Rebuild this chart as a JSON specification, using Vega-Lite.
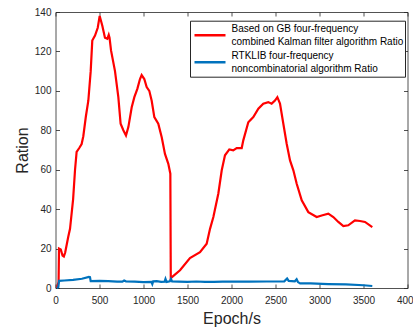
{
  "$schema": "https://vega.github.io/schema/vega-lite/v6.json",
  "width": 352,
  "height": 276,
  "autosize": "none",
  "padding": {"left": 55.5, "top": 12, "right": 5.5, "bottom": 39},
  "config": {
    "view": {"stroke": null},
    "font": "Liberation Sans",
    "axis": {
      "grid": false,
      "domainColor": "#262626",
      "domainWidth": 0.8,
      "tickColor": "#262626",
      "tickWidth": 0.8,
      "tickSize": -4,
      "labelColor": "#262626",
      "labelFontSize": 10,
      "titleColor": "#262626",
      "titleFontSize": 16,
      "titleFontWeight": "normal"
    },
    "legend": {
      "padding": 1,
      "strokeColor": "#262626",
      "fillColor": "white",
      "symbolType": "stroke",
      "symbolSize": 961,
      "symbolStrokeWidth": 2.5,
      "symbolOffset": 2,
      "clipHeight": 27,
      "labelFontSize": 10,
      "labelColor": "black",
      "labelLimit": 400,
      "labelOffset": 4.5,
      "rowPadding": 0
    }
  },
  "data": {
    "values": [
      {"series": "GB combined Kalman filter", "epoch": 15, "ratio": 0},
      {"series": "GB combined Kalman filter", "epoch": 35, "ratio": 3},
      {"series": "GB combined Kalman filter", "epoch": 40, "ratio": 20},
      {"series": "GB combined Kalman filter", "epoch": 60, "ratio": 19.5},
      {"series": "GB combined Kalman filter", "epoch": 80, "ratio": 16.5},
      {"series": "GB combined Kalman filter", "epoch": 95, "ratio": 16},
      {"series": "GB combined Kalman filter", "epoch": 110, "ratio": 18},
      {"series": "GB combined Kalman filter", "epoch": 145, "ratio": 26},
      {"series": "GB combined Kalman filter", "epoch": 165, "ratio": 30},
      {"series": "GB combined Kalman filter", "epoch": 200, "ratio": 45},
      {"series": "GB combined Kalman filter", "epoch": 222, "ratio": 60},
      {"series": "GB combined Kalman filter", "epoch": 240, "ratio": 69},
      {"series": "GB combined Kalman filter", "epoch": 270, "ratio": 71},
      {"series": "GB combined Kalman filter", "epoch": 297, "ratio": 73},
      {"series": "GB combined Kalman filter", "epoch": 316, "ratio": 77},
      {"series": "GB combined Kalman filter", "epoch": 345, "ratio": 87},
      {"series": "GB combined Kalman filter", "epoch": 373, "ratio": 95},
      {"series": "GB combined Kalman filter", "epoch": 400, "ratio": 110},
      {"series": "GB combined Kalman filter", "epoch": 418, "ratio": 125.5},
      {"series": "GB combined Kalman filter", "epoch": 449, "ratio": 128},
      {"series": "GB combined Kalman filter", "epoch": 480, "ratio": 132},
      {"series": "GB combined Kalman filter", "epoch": 502, "ratio": 138},
      {"series": "GB combined Kalman filter", "epoch": 532, "ratio": 133},
      {"series": "GB combined Kalman filter", "epoch": 562, "ratio": 127},
      {"series": "GB combined Kalman filter", "epoch": 589, "ratio": 126.4},
      {"series": "GB combined Kalman filter", "epoch": 605, "ratio": 128.4},
      {"series": "GB combined Kalman filter", "epoch": 614, "ratio": 127},
      {"series": "GB combined Kalman filter", "epoch": 631, "ratio": 120.5},
      {"series": "GB combined Kalman filter", "epoch": 676, "ratio": 110},
      {"series": "GB combined Kalman filter", "epoch": 714, "ratio": 96.8},
      {"series": "GB combined Kalman filter", "epoch": 740, "ratio": 83.3},
      {"series": "GB combined Kalman filter", "epoch": 771, "ratio": 80},
      {"series": "GB combined Kalman filter", "epoch": 801, "ratio": 77.4},
      {"series": "GB combined Kalman filter", "epoch": 828, "ratio": 81.6},
      {"series": "GB combined Kalman filter", "epoch": 866, "ratio": 91.7},
      {"series": "GB combined Kalman filter", "epoch": 896, "ratio": 96.8},
      {"series": "GB combined Kalman filter", "epoch": 930, "ratio": 101},
      {"series": "GB combined Kalman filter", "epoch": 960, "ratio": 106},
      {"series": "GB combined Kalman filter", "epoch": 979, "ratio": 108},
      {"series": "GB combined Kalman filter", "epoch": 1009, "ratio": 106},
      {"series": "GB combined Kalman filter", "epoch": 1036, "ratio": 101.9},
      {"series": "GB combined Kalman filter", "epoch": 1066, "ratio": 100},
      {"series": "GB combined Kalman filter", "epoch": 1093, "ratio": 95},
      {"series": "GB combined Kalman filter", "epoch": 1123, "ratio": 86.7},
      {"series": "GB combined Kalman filter", "epoch": 1168, "ratio": 83.3},
      {"series": "GB combined Kalman filter", "epoch": 1207, "ratio": 76.5},
      {"series": "GB combined Kalman filter", "epoch": 1244, "ratio": 68},
      {"series": "GB combined Kalman filter", "epoch": 1282, "ratio": 63},
      {"series": "GB combined Kalman filter", "epoch": 1305, "ratio": 58},
      {"series": "GB combined Kalman filter", "epoch": 1310, "ratio": 5},
      {"series": "GB combined Kalman filter", "epoch": 1350, "ratio": 6.5},
      {"series": "GB combined Kalman filter", "epoch": 1415, "ratio": 9},
      {"series": "GB combined Kalman filter", "epoch": 1528, "ratio": 15.2},
      {"series": "GB combined Kalman filter", "epoch": 1642, "ratio": 18.2},
      {"series": "GB combined Kalman filter", "epoch": 1718, "ratio": 22.5},
      {"series": "GB combined Kalman filter", "epoch": 1756, "ratio": 30},
      {"series": "GB combined Kalman filter", "epoch": 1794, "ratio": 36},
      {"series": "GB combined Kalman filter", "epoch": 1850, "ratio": 47.8},
      {"series": "GB combined Kalman filter", "epoch": 1889, "ratio": 59.7},
      {"series": "GB combined Kalman filter", "epoch": 1926, "ratio": 67.3},
      {"series": "GB combined Kalman filter", "epoch": 1975, "ratio": 70.3},
      {"series": "GB combined Kalman filter", "epoch": 2020, "ratio": 69.8},
      {"series": "GB combined Kalman filter", "epoch": 2059, "ratio": 71},
      {"series": "GB combined Kalman filter", "epoch": 2116, "ratio": 71},
      {"series": "GB combined Kalman filter", "epoch": 2134, "ratio": 74.9},
      {"series": "GB combined Kalman filter", "epoch": 2191, "ratio": 84.1},
      {"series": "GB combined Kalman filter", "epoch": 2248, "ratio": 86.7},
      {"series": "GB combined Kalman filter", "epoch": 2305, "ratio": 90.9},
      {"series": "GB combined Kalman filter", "epoch": 2361, "ratio": 93.5},
      {"series": "GB combined Kalman filter", "epoch": 2418, "ratio": 94.3},
      {"series": "GB combined Kalman filter", "epoch": 2456, "ratio": 93.5},
      {"series": "GB combined Kalman filter", "epoch": 2494, "ratio": 95.1},
      {"series": "GB combined Kalman filter", "epoch": 2521, "ratio": 96.8},
      {"series": "GB combined Kalman filter", "epoch": 2551, "ratio": 93.5},
      {"series": "GB combined Kalman filter", "epoch": 2589, "ratio": 83.3},
      {"series": "GB combined Kalman filter", "epoch": 2627, "ratio": 73.2},
      {"series": "GB combined Kalman filter", "epoch": 2665, "ratio": 64.7},
      {"series": "GB combined Kalman filter", "epoch": 2703, "ratio": 59.7},
      {"series": "GB combined Kalman filter", "epoch": 2741, "ratio": 52.9},
      {"series": "GB combined Kalman filter", "epoch": 2798, "ratio": 44.5},
      {"series": "GB combined Kalman filter", "epoch": 2873, "ratio": 38.5},
      {"series": "GB combined Kalman filter", "epoch": 2968, "ratio": 36},
      {"series": "GB combined Kalman filter", "epoch": 3025, "ratio": 36.8},
      {"series": "GB combined Kalman filter", "epoch": 3100, "ratio": 37.7},
      {"series": "GB combined Kalman filter", "epoch": 3157, "ratio": 36},
      {"series": "GB combined Kalman filter", "epoch": 3214, "ratio": 33.5},
      {"series": "GB combined Kalman filter", "epoch": 3271, "ratio": 31.4},
      {"series": "GB combined Kalman filter", "epoch": 3327, "ratio": 31.8},
      {"series": "GB combined Kalman filter", "epoch": 3403, "ratio": 34.3},
      {"series": "GB combined Kalman filter", "epoch": 3460, "ratio": 34},
      {"series": "GB combined Kalman filter", "epoch": 3517, "ratio": 33.5},
      {"series": "GB combined Kalman filter", "epoch": 3600, "ratio": 30.9},
      {"series": "RTKLIB noncombinatorial", "epoch": 15, "ratio": 0},
      {"series": "RTKLIB noncombinatorial", "epoch": 32, "ratio": 0.5},
      {"series": "RTKLIB noncombinatorial", "epoch": 40, "ratio": 3.6},
      {"series": "RTKLIB noncombinatorial", "epoch": 100, "ratio": 3.8},
      {"series": "RTKLIB noncombinatorial", "epoch": 200, "ratio": 4.1},
      {"series": "RTKLIB noncombinatorial", "epoch": 300, "ratio": 4.7},
      {"series": "RTKLIB noncombinatorial", "epoch": 380, "ratio": 5.6},
      {"series": "RTKLIB noncombinatorial", "epoch": 392, "ratio": 5.5},
      {"series": "RTKLIB noncombinatorial", "epoch": 400, "ratio": 3.5},
      {"series": "RTKLIB noncombinatorial", "epoch": 500, "ratio": 3.6},
      {"series": "RTKLIB noncombinatorial", "epoch": 600, "ratio": 3.5},
      {"series": "RTKLIB noncombinatorial", "epoch": 700, "ratio": 3.2},
      {"series": "RTKLIB noncombinatorial", "epoch": 760, "ratio": 3.2},
      {"series": "RTKLIB noncombinatorial", "epoch": 780, "ratio": 3.8},
      {"series": "RTKLIB noncombinatorial", "epoch": 800, "ratio": 3.4},
      {"series": "RTKLIB noncombinatorial", "epoch": 900, "ratio": 3.2},
      {"series": "RTKLIB noncombinatorial", "epoch": 1000, "ratio": 3.0},
      {"series": "RTKLIB noncombinatorial", "epoch": 1090, "ratio": 3.1},
      {"series": "RTKLIB noncombinatorial", "epoch": 1100, "ratio": 2.0},
      {"series": "RTKLIB noncombinatorial", "epoch": 1110, "ratio": 3.4},
      {"series": "RTKLIB noncombinatorial", "epoch": 1150, "ratio": 3.5},
      {"series": "RTKLIB noncombinatorial", "epoch": 1200, "ratio": 3.1},
      {"series": "RTKLIB noncombinatorial", "epoch": 1240, "ratio": 3.2},
      {"series": "RTKLIB noncombinatorial", "epoch": 1250, "ratio": 4.6},
      {"series": "RTKLIB noncombinatorial", "epoch": 1262, "ratio": 3.1},
      {"series": "RTKLIB noncombinatorial", "epoch": 1300, "ratio": 3.4},
      {"series": "RTKLIB noncombinatorial", "epoch": 1312, "ratio": 4.6},
      {"series": "RTKLIB noncombinatorial", "epoch": 1325, "ratio": 3.3},
      {"series": "RTKLIB noncombinatorial", "epoch": 1400, "ratio": 3.2},
      {"series": "RTKLIB noncombinatorial", "epoch": 1500, "ratio": 3.1},
      {"series": "RTKLIB noncombinatorial", "epoch": 1600, "ratio": 3.3},
      {"series": "RTKLIB noncombinatorial", "epoch": 1700, "ratio": 3.1},
      {"series": "RTKLIB noncombinatorial", "epoch": 1800, "ratio": 3.1},
      {"series": "RTKLIB noncombinatorial", "epoch": 1900, "ratio": 3.2},
      {"series": "RTKLIB noncombinatorial", "epoch": 2000, "ratio": 3.3},
      {"series": "RTKLIB noncombinatorial", "epoch": 2200, "ratio": 3.2},
      {"series": "RTKLIB noncombinatorial", "epoch": 2400, "ratio": 3.3},
      {"series": "RTKLIB noncombinatorial", "epoch": 2600, "ratio": 3.4},
      {"series": "RTKLIB noncombinatorial", "epoch": 2632, "ratio": 4.8},
      {"series": "RTKLIB noncombinatorial", "epoch": 2650, "ratio": 3.6},
      {"series": "RTKLIB noncombinatorial", "epoch": 2720, "ratio": 3.4},
      {"series": "RTKLIB noncombinatorial", "epoch": 2740, "ratio": 4.4},
      {"series": "RTKLIB noncombinatorial", "epoch": 2755, "ratio": 3.0},
      {"series": "RTKLIB noncombinatorial", "epoch": 2780, "ratio": 2.3},
      {"series": "RTKLIB noncombinatorial", "epoch": 2900, "ratio": 2.3},
      {"series": "RTKLIB noncombinatorial", "epoch": 3100, "ratio": 2.0},
      {"series": "RTKLIB noncombinatorial", "epoch": 3300, "ratio": 1.8},
      {"series": "RTKLIB noncombinatorial", "epoch": 3500, "ratio": 1.4},
      {"series": "RTKLIB noncombinatorial", "epoch": 3600, "ratio": 1.0}
    ]
  },
  "layer": [
    {
      "mark": {"type": "line", "strokeWidth": 2.2},
      "encoding": {
        "x": {
          "field": "epoch", "type": "quantitative",
          "scale": {"domain": [0, 4000], "nice": false},
          "axis": {"orient": "bottom", "values": [0, 500, 1000, 1500, 2000, 2500, 3000, 3500, 4000], "format": "d", "title": "Epoch/s", "labelPadding": 11, "titlePadding": 5, "labelFlush": false}
        },
        "y": {
          "field": "ratio", "type": "quantitative",
          "scale": {"domain": [0, 140], "nice": false},
          "axis": {"orient": "left", "values": [0, 20, 40, 60, 80, 100, 120, 140], "title": "Ration", "labelPadding": 8.5, "titlePadding": 4}
        },
        "color": {
          "field": "series", "type": "nominal",
          "scale": {"domain": ["GB combined Kalman filter", "RTKLIB noncombinatorial"], "range": ["#FF0000", "#0072BD"]},
          "legend": {
            "title": null,
            "orient": "none",
            "legendX": 134.5,
            "legendY": 8.7,
            "labelExpr": "datum.value == 'RTKLIB noncombinatorial' ? ['RTKLIB four-frequency', 'noncombinatorial algorithm Ratio'] : ['Based on GB four-frequency', 'combined Kalman filter algorithm Ratio']",
            "encoding": {"labels": {"dy": {"value": -6.5}, "lineHeight": {"value": 13.5}}}
          }
        }
      }
    },
    {
      "mark": {"type": "line", "opacity": 0},
      "encoding": {
        "x": {
          "field": "epoch", "type": "quantitative",
          "axis": {"orient": "top", "values": [0, 500, 1000, 1500, 2000, 2500, 3000, 3500, 4000], "labels": false, "title": null}
        },
        "y": {
          "field": "ratio", "type": "quantitative",
          "axis": {"orient": "right", "values": [0, 20, 40, 60, 80, 100, 120, 140], "labels": false, "title": null}
        },
        "detail": {"field": "series"}
      }
    }
  ],
  "resolve": {"axis": {"x": "independent", "y": "independent"}}
}
